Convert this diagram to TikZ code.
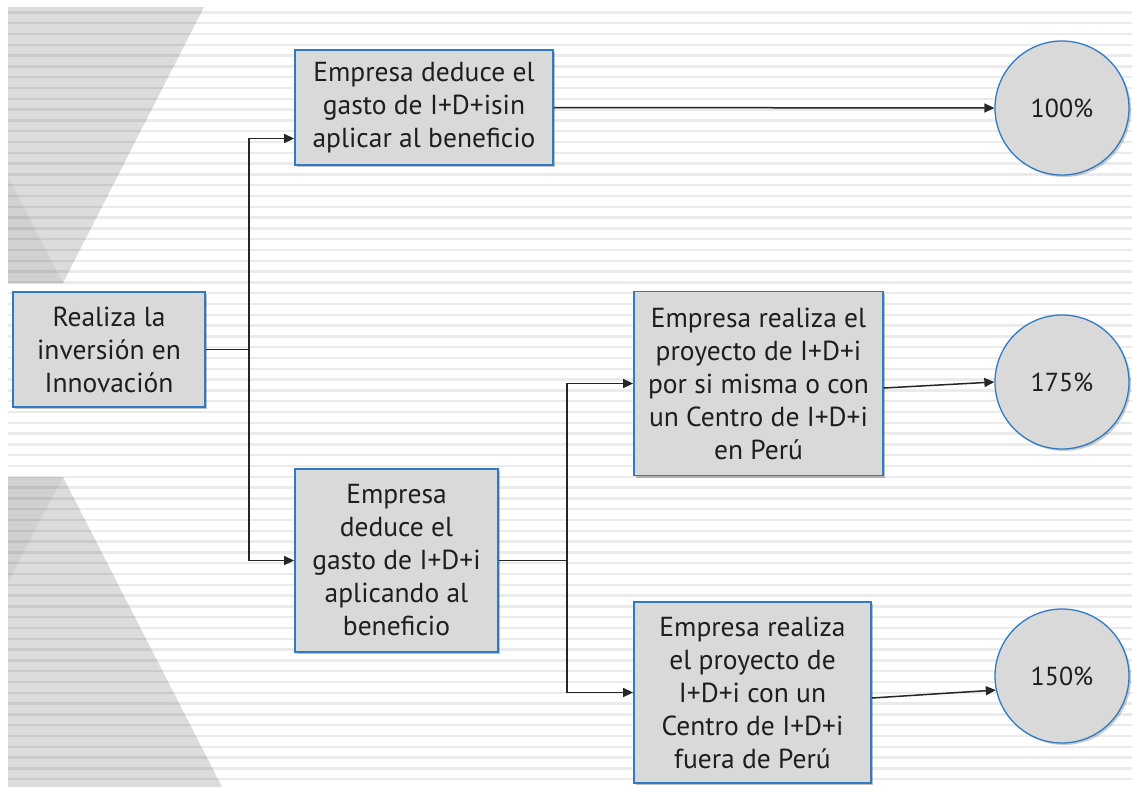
\documentclass[tikz,border=0pt]{standalone}
\usepackage{fontspec}
\setmainfont{PT Sans}
\usetikzlibrary{arrows.meta,shadows,calc}
\definecolor{boxfill}{HTML}{D9D9D9}
\definecolor{boxline}{HTML}{2E7BC4}
\definecolor{txt}{HTML}{1E1E1E}
\definecolor{shapeA}{HTML}{DCDCDC}
\definecolor{shapeB}{HTML}{D1D1D1}
\tikzset{
  box/.style={draw=boxline, line width=1.8pt, fill=boxfill, align=center, text=txt,
    inner sep=0pt, font=\fontsize{27.5}{33}\selectfont,
    drop shadow={shadow xshift=2pt, shadow yshift=-2pt, opacity=0.25, fill=black}},
  pct/.style={circle, draw=boxline, line width=1.3pt, fill=boxfill, text=txt,
    minimum size=134pt, inner sep=0pt, font=\fontsize{26}{30}\selectfont,
    drop shadow={shadow xshift=2pt, shadow yshift=-2pt, opacity=0.2, fill=black}},
  link/.style={line width=1.5pt, draw=black!85},
  arr/.style={link, -{Triangle[length=10pt,width=9pt]}},
  stripe/.style={line width=2.3pt, draw=black, opacity=0.08}
}
\begin{document}
\begin{tikzpicture}[x=1pt,y=-1pt]
\useasboundingbox (0,0) rectangle (1132,787);
\fill[white] (0,0) rectangle (1132,787);
% watermark shapes
\fill[shapeA] (8,7) -- (204,7) -- (63,283) -- (8,283) -- cycle;
\fill[shapeB] (8,177) -- (63,283) -- (8,283) -- cycle;
\fill[shapeA] (8,477) -- (63,477) -- (222,787) -- (8,787) -- cycle;
\fill[shapeB] (8,477) -- (63,477) -- (8,582) -- cycle;
% stripes
\foreach \k in {0,...,71} {
  \draw[stripe] (8,12.4+10.8*\k) -- (1132,12.4+10.8*\k);
}
% nodes
\node[box, minimum width=192pt, minimum height=115pt] (A) at (109,349.5)
  {Realiza la\\inversión en\\Innovación};
\node[box, minimum width=258pt, minimum height=115pt] (B) at (424,107.5)
  {Empresa deduce el\\gasto de I+D+isin\\aplicar al beneficio};
\node[box, minimum width=203pt, minimum height=183pt] (C) at (396.5,560.5)
  {Empresa\\deduce el\\gasto de I+D+i\\aplicando al\\beneficio};
\node[box, minimum width=249pt, minimum height=184pt] (D) at (758.5,383.5)
  {Empresa realiza el\\proyecto de I+D+i\\por si misma o con\\un Centro de I+D+i\\en Perú};
\node[box, minimum width=237pt, minimum height=181pt] (E) at (752.5,692.5)
  {Empresa realiza\\el proyecto de\\I+D+i con un\\Centro de I+D+i\\fuera de Perú};
\node[pct] (c100) at (1062,108) {100\%};
\node[pct] (c175) at (1062,382) {175\%};
\node[pct] (c150) at (1062,676) {150\%};
% connectors
\coordinate (j1) at (249,349.5);
\coordinate (bin) at ([yshift=-31pt]B.west);
\draw[link] (A.east) -- (j1);
\draw[arr] (j1) |- (bin);
\draw[arr] (j1) |- (C.west);
\coordinate (j2) at (567,560.5);
\draw[link] (C.east) -- (j2);
\draw[arr] (j2) |- (D.west);
\draw[arr] (j2) |- (E.west);
\draw[arr] (B.east) -- (c100.west);
\draw[arr] ([yshift=-4.5pt]D.east) -- (c175.west);
\draw[arr] ([yshift=-5.5pt]E.east) -- (c150.192);
\end{tikzpicture}
\end{document}
